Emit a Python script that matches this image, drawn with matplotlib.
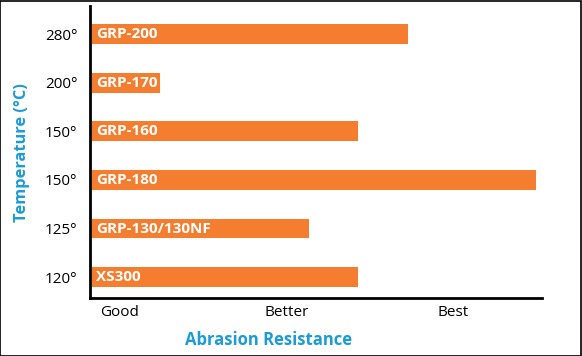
import matplotlib
matplotlib.use("Agg")
import matplotlib.pyplot as plt
from matplotlib.patches import Rectangle

products = ["XS300", "GRP-130/130NF", "GRP-180", "GRP-160", "GRP-170", "GRP-200"]
temps = ["120°", "125°", "150°", "150°", "200°", "280°"]
abrasion = [2.43, 2.135, 3.50, 2.43, 1.24, 2.73]
x_ticks = [1, 2, 3]
x_ticklabels = ["Good", "Better", "Best"]

bar_start = 0.832
orange = "#F47D30"
blue = "#1C9BD6"
font = "Open Sans"

fig = plt.figure(figsize=(5.82, 3.56), dpi=100)
ax = fig.add_axes([90/582, 1 - 298/356, (542-90)/582, (298-6)/356])

ys = list(range(len(products)))
ax.barh(ys, [v - bar_start for v in abrasion], left=bar_start, height=0.41,
        color=orange, edgecolor="none")
for y, name in zip(ys, products):
    ax.text(bar_start + 0.027, y, name, color="white", fontweight="bold",
            fontsize=11, va="center", ha="left", family=font)

ax.set_xlim(0.82, 3.535)
ax.set_ylim(-0.43, 5.58)
ax.set_yticks(ys)
ax.set_yticklabels(temps, fontsize=11, family=font)
ax.set_xticks(x_ticks)
ax.set_xticklabels(x_ticklabels, fontsize=11, family=font)
ax.tick_params(length=0)
ax.tick_params(axis="y", pad=9)
ax.tick_params(axis="x", pad=5)
for s in ["top", "right"]:
    ax.spines[s].set_visible(False)
for s in ["left", "bottom"]:
    ax.spines[s].set_linewidth(2)
    ax.spines[s].set_color("black")

fig.text(22/582, 1 - 153/356, "Temperature (°C)", rotation=90, color=blue,
         fontweight="bold", fontsize=11.8, ha="center", va="center", family=font)
fig.text(269/582, 1 - 340/356, "Abrasion Resistance", color=blue,
         fontweight="bold", fontsize=12, ha="center", va="center", family=font)

fig.patches.append(Rectangle((0.0005, 0.001), 0.998, 0.997, transform=fig.transFigure,
                             fill=False, edgecolor="black", linewidth=1.2))

fig.savefig("out.png", dpi=100)
